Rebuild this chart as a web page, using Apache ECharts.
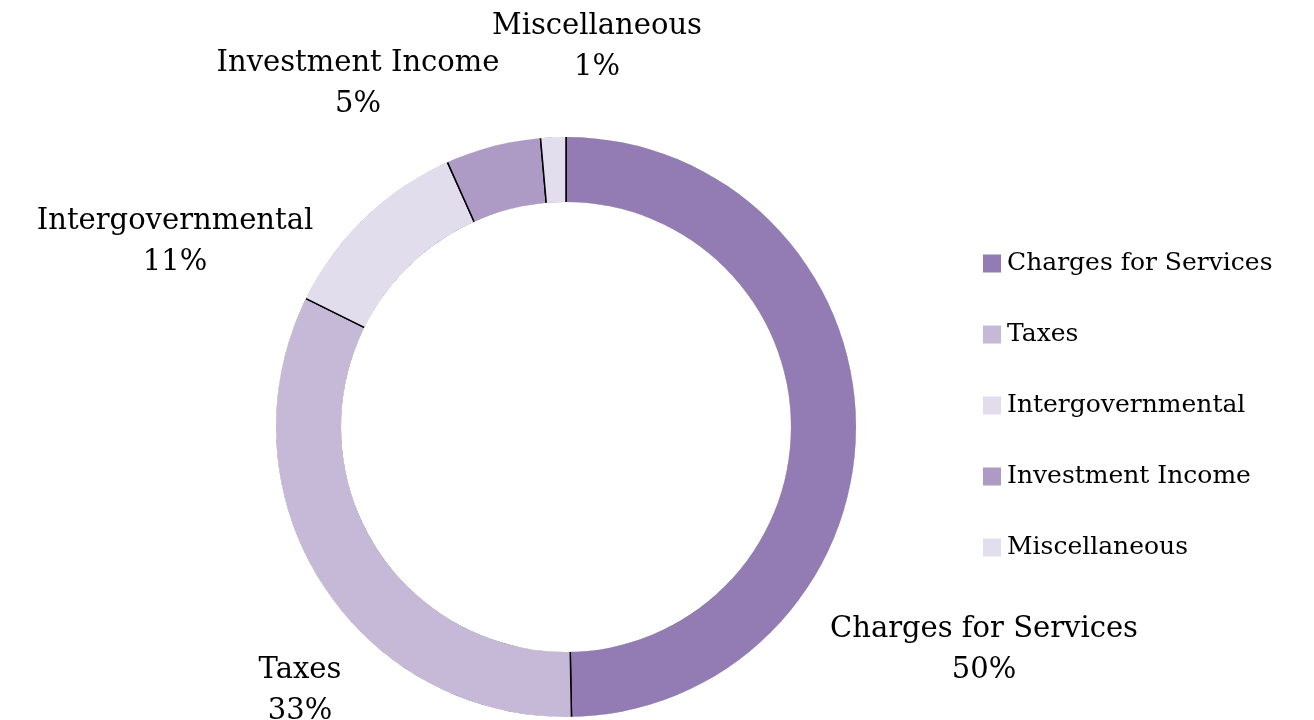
<!DOCTYPE html>
<html>
<head>
<meta charset="utf-8">
<script src="https://cdn.jsdelivr.net/npm/echarts@6/dist/echarts.min.js"></script>
<style>
  html, body { margin: 0; padding: 0; background: #fff; }
  #chart { width: 1314px; height: 720px; }
</style>
</head>
<body>
<div id="chart"></div>
<script>
// revenue sources (share of total, %)
var categories = ['Charges for Services', 'Taxes', 'Intergovernmental', 'Investment Income', 'Miscellaneous'];
var shares = [49.7, 32.6, 11.0, 5.3, 1.4];
var colors = ['#937cb3', '#c6b9d7', '#e2ddec', '#ad9bc6', '#e3deed'];

// label centres, moved by hand like in the original
var labelPos = [[984, 650], [300, 691], [175, 242], [358, 84], [597, 47]];

var font = '"DejaVu Serif", serif';
var chart = echarts.init(document.getElementById('chart'));

var pieData = categories.map(function (name, i) {
  return { name: name, value: shares[i], itemStyle: { color: colors[i] } };
});

chart.setOption({
  animation: false,
  legend: {
    orient: 'vertical',
    left: 983,
    top: 251,
    padding: 0,
    itemWidth: 18,
    itemHeight: 18,
    itemGap: 46,
    icon: 'rect',
    itemStyle: { borderWidth: 0 },
    data: categories,
    textStyle: { fontFamily: font, fontSize: 25, color: '#000', padding: [0, 0, 0, 1] },
    selectedMode: false
  },
  series: [
    {
      type: 'pie',
      center: [566, 427],
      radius: [224, 291],
      startAngle: 90,
      clockwise: true,
      silent: true,
      itemStyle: { borderColor: '#000', borderWidth: 1.5 },
      label: {
        show: true,
        position: 'outside',
        overflow: 'none',
        fontFamily: font,
        fontSize: 29,
        lineHeight: 41,
        color: '#000',
        align: 'center',
        formatter: function (p) {
          return p.name + '\n' + Math.round(p.percent) + '%';
        }
      },
      labelLine: { show: false },
      labelLayout: function (p) {
        var pos = labelPos[p.dataIndex];
        return { x: pos[0], y: pos[1], align: 'center', verticalAlign: 'middle' };
      },
      data: pieData
    },
    // white rings hide the sector outlines on the arcs, keeping only radial lines
    {
      type: 'pie',
      center: [566, 427],
      radius: [290, 300],
      silent: true,
      label: { show: false },
      itemStyle: { color: '#fff' },
      data: [{ name: 'outerMask', value: 1 }]
    },
    {
      type: 'pie',
      center: [566, 427],
      radius: [214, 225],
      silent: true,
      label: { show: false },
      itemStyle: { color: '#fff' },
      data: [{ name: 'innerMask', value: 1 }]
    }
  ]
});
</script>
</body>
</html>
